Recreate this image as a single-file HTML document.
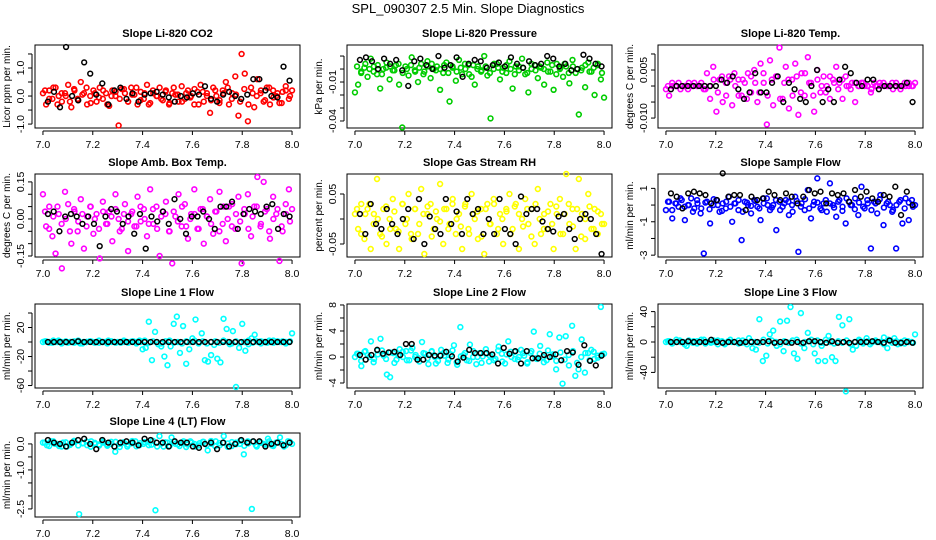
<!DOCTYPE html>
<html><head><meta charset="utf-8"><style>
html,body{margin:0;padding:0;background:#fff;}
svg{display:block;font-family:"Liberation Sans",sans-serif;}
</style></head><body>
<svg id="chart" width="936" height="540" viewBox="0 0 936 540">
<text x="468" y="13" text-anchor="middle" font-size="13">SPL_090307  2.5 Min. Slope Diagnostics</text>
</svg>
<script>
const xTicks = [7.0, 7.2, 7.4, 7.6, 7.8, 8.0];
const xTickLabels = ["7.0", "7.2", "7.4", "7.6", "7.8", "8.0"];

const co2Col = [0.1,-0.3,0.2,-0.1,0.3,0,-0.2,0.1,0.4,-0.4,0.2,-0.1,0.5,0.1,-0.3,0,0.2,-0.2,0.3,-0.1,0.1,-0.35,0.2,0,-1.05,0.25,0.1,-0.2,0.3,0.05,-0.3,0.15,-0.1,0.4,-0.25,0.1,0,0.3,-0.15,0.2,-0.3,0.1,0.05,-0.2,0.35,-0.1,0.2,0,-0.3,0.15,0.4,-0.2,0.1,-0.6,0.3,0,-0.15,0.2,0.5,-0.3,0.1,0.7,-0.7,1.5,0.8,-0.9,0.3,-0.4,0.6,0.1,-0.2,0.3,-0.3,0.2,0,-0.25,0.15,0.35,-0.1,0.2];
const co2Band = [0.2,-0.1,0.3,-0.3,0.1,0,-0.2,0.25,-0.15,0.05,0.3,-0.25,0.1,-0.05,0.2,-0.3,0,0.15,-0.1,0.25,-0.2,0.05,0.3,-0.15,0.1,-0.3,0.2,0,-0.1,0.15,-0.25,0.3,0.05,-0.2,0.1,-0.05,0.25,-0.3,0.15,0,-0.15,0.2,-0.25,0.1,0.3,-0.1,0.05,-0.2,0.25,-0.3,0.1,0,0.2,-0.15,0.3,-0.05,0.1,-0.25,0.2,0];
const co2Blk = [-0.2,0.15,-0.4,1.75,0,-0.15,1.2,0.8,0.05,0.45,-0.3,0.2,0.3,-0.1,0.1,-0.2,0.05,0.1,0.15,0.05,-0.05,-0.2,0,-0.05,0.1,0.05,0.35,-0.1,-0.2,0.05,0.15,0,-0.1,0.05,0.6,0.6,0.2,0,-0.05,1.05,0.55];
const co2Ticks = [-1,-0.5,0,0.5,1,1.5];
const co2Labels = ["-1.0","","0.0","","1.0",""];

const presCol = [-0.018,-0.012,-0.002,0.001,-0.006,0.008,0.002,-0.004,-0.015,0,0.005,-0.008,-0.001,0.003,-0.012,-0.045,0.002,-0.005,0.009,-0.001,-0.01,0.004,-0.002,0.006,-0.007,0,0.002,-0.016,-0.003,0.005,-0.025,0.001,-0.009,0.007,-0.004,0,0.003,-0.006,-0.012,0.002,-0.002,0.01,-0.005,-0.038,0,0.004,-0.008,0.001,-0.003,0.006,-0.015,0.002,-0.001,0.008,-0.004,-0.018,0,0.003,-0.007,0.001,-0.012,0.005,-0.002,-0.016,0.004,0,-0.006,0.002,-0.011,0.007,-0.003,-0.035,0.001,-0.014,0.005,-0.002,-0.02,0.003,-0.008,-0.022];
const presBand = [0.002,-0.003,0.004,0,-0.002,0.003,-0.004,0.001,0.002,-0.001,0.004,-0.003,0,0.003,-0.002,0.001,-0.004,0.002,0.004,-0.001,0,0.003,-0.003,0.002,-0.002,0.001,0.004,-0.004,0.003,0,-0.001,0.002,-0.003,0.004,0.001,-0.002,0.003,0,-0.004,0.002,0.001,-0.003,0.004,-0.001,0.002,0,-0.002,0.003,-0.004,0.001,0.004,-0.003,0.002,0,-0.001,0.003,-0.002,0.001,0.004,-0.003];
const presBlk = [0.007,0.009,0.006,0,0.008,0.004,0.007,-0.001,-0.013,0.006,0.008,0.003,0,0.01,0.001,0.003,0.009,-0.006,0.004,0.007,0.006,0.001,0.003,0.005,0.002,0.009,0.004,0.001,0.006,0.003,0.004,0.01,0.008,0.002,0.004,-0.001,0,0.011,0.008,0.004,0.002];
const presTicks = [-0.04,-0.03,-0.02,-0.01,0,0.01];
const presLabels = ["-0.04","","","-0.01","",""];

const tempCol = [-0.001,-0.003,0,0,0.001,0,0,-0.001,0,0.001,0,0,-0.001,0.004,-0.004,0.006,-0.008,0.002,-0.005,0.001,0.003,-0.006,0,0.002,-0.003,0.001,0.004,-0.002,0.005,-0.005,0.007,0.001,-0.012,0.008,-0.006,0.003,0.012,-0.004,0.006,-0.007,0.002,0.007,-0.009,0.004,-0.003,0.009,0.001,-0.008,0.005,-0.002,0.003,0,-0.004,0.002,0.006,0.001,-0.004,0.003,0,0.001,-0.005,0,0.001,0,0,-0.002,0.001,0,0,0.001,0,0,-0.001,0.001,0,0,0,0.001,0,0.001];
const tempBand = [0,0.001,0,-0.001,0,0.001,0,0,0.001,-0.001,0,0.002,-0.002,0.003,-0.003,0.002,0.004,-0.003,0.002,-0.004,0.003,0.001,-0.002,0.004,-0.003,0.002,0.003,-0.004,0.001,0.002,-0.003,0.003,-0.002,0.004,0.001,-0.003,0.002,0,-0.002,0.003,0.001,-0.001,0.002,0,-0.001,0.001,0,0.001,0,-0.001,0,0.001,0,0,0.001,0,-0.001,0.001,0,0];
const tempBlk = [-0.001,0,0,0,0,0,0,0,0,0.002,0.001,0.003,-0.001,-0.004,-0.002,0.004,-0.002,-0.002,0.001,0.003,-0.005,0.001,-0.001,-0.004,-0.005,0,0.005,-0.005,-0.001,-0.005,0.002,0.006,0.004,0.001,0,0.002,0.002,-0.001,0,0,0,0,0.001,-0.005];
const tempTicks = [-0.01,-0.005,0,0.005,0.01];
const tempLabels = ["-0.010","","","0.005",""];

const ambCol = [0.1,-0.03,0.05,-0.07,-0.14,0.02,-0.2,0.11,0.06,-0.1,0.03,-0.05,0.08,-0.12,0.01,0.05,-0.06,0.02,-0.16,0.07,-0.02,0.03,-0.09,0.1,0,-0.04,0.06,-0.13,0.02,-0.03,0.09,-0.01,0.04,-0.07,0.12,-0.02,0.05,-0.15,0.03,0.07,-0.05,-0.18,0.01,0.1,-0.03,0.06,-0.08,0.02,0.12,-0.04,0.04,-0.1,0.01,0.08,-0.06,0.03,0.11,-0.02,-0.09,0.05,0.06,-0.04,0.09,-0.18,0.02,0.1,-0.07,0.05,0.17,-0.03,0.15,0.04,-0.08,0.09,0.02,-0.17,-0.05,0.06,0.12,0.04];
const ambBand = [0.03,-0.04,0.01,0.05,-0.02,0,-0.05,0.04,-0.01,0.02,-0.03,0.05,0,-0.04,0.03,-0.02,0.01,0.04,-0.05,0.02,-0.01,0.03,-0.03,0.05,0,-0.02,0.04,-0.04,0.01,0.02,-0.05,0.03,-0.01,0.05,-0.03,0,0.02,-0.04,0.04,0.01,-0.02,0.03,-0.05,0.05,0,-0.03,0.02,-0.01,0.04,-0.04,0.01,0.05,-0.02,0.03,-0.05,0,0.04,-0.03,0.02,-0.01];
const ambBlk = [0.02,0.03,-0.05,0.01,0.02,0.01,-0.02,0.01,-0.02,-0.11,0.01,0.04,0.03,-0.02,0.01,-0.06,0.02,-0.12,0.01,-0.01,0.03,-0.02,0.08,0,-0.06,0.01,0.01,0.03,0,-0.04,0.05,0.05,0.07,-0.04,0.02,0.04,0.03,0.02,0.05,0.06,-0.04,0.02,0.01];
const ambTicks = [-0.15,-0.1,-0.05,0,0.05,0.1,0.15];
const ambLabels = ["-0.15","","","0.00","","","0.15"];

const rhCol = [0.01,-0.02,0.03,-0.04,0.02,-0.06,0.01,0.08,-0.03,0.02,-0.05,0,0.04,-0.02,-0.06,0.03,-0.01,0.05,-0.04,0.02,-0.03,0.06,-0.07,0.01,0.03,-0.02,0,0.07,-0.05,0.02,-0.01,0.04,-0.03,0.01,-0.06,0.03,-0.02,0.05,0,-0.04,0.02,-0.07,0.03,-0.01,0.04,-0.03,0.01,-0.05,0.02,0.05,-0.02,0.03,-0.06,0,0.04,-0.01,0.02,-0.05,0.06,-0.03,0.01,-0.02,0.03,-0.06,0.01,0.04,-0.03,0.09,-0.01,0.02,-0.06,0.08,0.01,-0.04,0.05,-0.02,0.02,-0.03,0.01,-0.01];
const rhBand = [0.02,-0.03,0.01,0.03,-0.01,0,-0.035,0.025,-0.02,0.015,-0.025,0.03,0,-0.03,0.02,-0.01,0.01,0.025,-0.035,0.015,-0.005,0.02,-0.02,0.03,0,-0.015,0.025,-0.03,0.01,0.015,-0.035,0.02,-0.01,0.03,-0.02,0,0.015,-0.03,0.025,0.01,-0.015,0.02,-0.035,0.03,0,-0.02,0.015,-0.01,0.025,-0.03,0.01,0.03,-0.015,0.02,-0.035,0,0.025,-0.02,0.015,-0.01];
const rhBlk = [0.01,-0.03,0.03,-0.01,-0.02,0.02,-0.01,-0.03,0,0.02,-0.04,0.04,-0.05,0.005,-0.02,-0.03,0.04,-0.01,0.015,-0.03,0.04,0.01,0.02,-0.03,0,-0.03,0.04,-0.02,-0.03,-0.05,0.045,0.01,0.02,0.02,-0.005,-0.02,-0.025,0.005,0.01,-0.02,-0.04,0,0.01,0,-0.03,-0.07];
const rhTicks = [-0.05,0,0.05];
const rhLabels = ["-0.05","","0.05"];

const sampCol = [-0.3,0.2,-0.8,0.1,-0.1,0.3,-0.9,0,0.4,-0.2,0.1,-0.5,-2.9,0.2,-1.1,0,0.3,-0.4,0.1,-0.2,0.5,-1,0.1,-0.3,-2.1,0.2,0,-0.5,0.3,-0.1,-0.9,0.1,0.4,-0.3,0,-1.5,0.2,-0.1,0.3,-0.6,0,0.5,-2.8,0.1,-0.3,0.9,-0.8,0.2,1.6,-0.2,0.1,-0.4,1.3,0,-0.7,0.3,-0.1,-1.1,0.2,0,0.4,-0.6,1.1,-0.2,0.1,-2.6,0.2,-0.5,0.6,-1.2,0.1,0,-0.3,-2.6,0.2,-1.1,0.4,-0.9,0.3,0];
const sampBand = [0.2,-0.3,0.1,0.4,-0.1,0,-0.4,0.3,-0.2,0.15,-0.25,0.35,0,-0.35,0.2,-0.1,0.1,0.3,-0.4,0.15,-0.05,0.25,-0.2,0.4,0,-0.15,0.3,-0.3,0.1,0.2,-0.4,0.25,-0.1,0.35,-0.2,0,0.15,-0.3,0.3,0.1,-0.15,0.2,-0.35,0.4,0,-0.25,0.15,-0.1,0.3,-0.3,0.1,0.35,-0.15,0.2,-0.4,0,0.3,-0.2,0.15,-0.1];
const sampBlk = [0.7,0.5,-0.2,0.7,0.8,0.7,0.6,0.1,0.3,1.9,0.5,0.6,0.6,-0.3,0.5,0.3,0.4,0.8,0.6,0.3,0.7,0.5,0.1,0.5,0.9,0.7,0.8,0.1,0.7,0.6,0.7,0.2,0.9,0.5,0.8,0.4,0.2,0.6,0.5,1.1,-0.6,0.8,0];
const sampTicks = [-3,-2,-1,0,1];
const sampLabels = ["-3","","-1","","1"];

const l1Col = [0,1,0,-1,0,2,0,0,-1,0,1,0,-2,0,0,1,0,0,-1,0,0,2,0,0,0,-1,0,0,0,1,0,2,-10,-8,28,-25,14,-3,-6,-20,-32,-6,25,35,-15,22,-30,-10,5,31,-2,12,-25,-27,-18,-4,-23,-28,32,18,-3,15,-62,-8,25,-12,-3,5,10,0,1,0,-1,0,2,0,0,1,0,0,12];
const l1Band = [1,-1,2,0,-2,1,0,-1,2,-2,0,1,-1,2,0,-2,1,-1,0,2,-1,1,-2,0,2,-1,1,0,-2,1,2,-1,0,-2,1,0,2,-1,1,-2,0,1,-1,2,0,-2,1,-1,0,2,-1,1,-2,0,2,-1,1,0,-2,1];
const l1Blk = [0,0,0,0,0,1,0,0,0,0,0,0,0,0,0,0,0,0,0,0,0,0,0,0,0,0,0,0,0,0,0,0,0,0,0,0,0,0,0,0,0];
const l1Ticks = [-60,-40,-20,0,20,40];
const l1Labels = ["-60","","-20","","20",""];

const l2Col = [0,0.5,-1.4,0.8,0.3,2.4,-0.3,1,2.8,0.2,-2.7,-3.1,0.6,-0.4,1.2,0,0.9,-0.5,1.4,0.3,-0.2,2.3,0.5,-1.1,0.8,0,-0.6,1.1,0.2,-0.9,0.4,1.8,-1.2,4.6,0.3,-0.5,1.9,0,-1.1,0.6,0.1,1.2,-0.7,0.3,-0.3,1.6,0.5,-1,2.4,0,0.8,-0.4,1.1,0.2,-0.8,0.6,3.9,-0.3,1.7,0,-0.5,3.5,0.4,-1.9,3,-4.1,3.2,-1.3,4.8,-2.9,-1.9,2.7,-2.4,0.6,1.1,-0.3,0.2,7.7,0.5];
const l2Band = [0.5,-0.6,0.9,0,-0.8,0.4,1,-0.3,0.7,-0.9,0.2,0.8,-0.5,1,0,-0.7,0.6,-0.2,0.9,-1,0.3,0.7,-0.4,1,-0.8,0.1,0.6,-0.6,0.9,0,-0.9,0.5,0.2,-0.5,1,-0.7,0.4,0.8,-0.3,0,0.6,-1,0.9,-0.2,0.5,-0.8,1,0.1,-0.6,0.7,-0.4,0.3,0.9,-0.9,0,0.6,-0.5,0.8,-0.1,0.4];
const l2Blk = [0.3,-0.4,0.3,1.1,0.5,0.7,0.8,0.3,2,2,-0.4,-0.4,0.3,0.2,0.2,0.8,0.1,-0.7,-0.1,1.1,0.6,0.6,0.6,0.4,-1,1.4,0.5,0.9,-1,0.9,-0.2,-0.2,0.3,0,0.4,-0.5,0.9,0.7,-1.2,1.8,-0.6,-1.3,0.2];
const l2Ticks = [-4,-2,0,2,4,6,8];
const l2Labels = ["-4","","0","","4","","8"];

const l3Col = [0,1,-1,0,2,0,-5,0,1,-2,0,3,0,-1,0,2,0,-3,1,0,0,2,-1,0,5,-8,-10,30,-25,-18,10,15,-5,27,-12,28,46,-15,-22,38,-8,12,3,-15,-25,-5,-25,8,-20,-25,33,22,-65,30,-10,-5,2,0,5,-3,1,0,0,6,-8,2,5,-3,0,-2,1,0,10];
const l3Band = [1,-2,3,0,-3,2,-1,1,3,-2,0,2,-3,1,-1,3,0,-2,2,-3,1,0,-1,3,-2,2,0,-3,1,-1,2,3,-2,0,1,-3,2,-1,3,0,-2,1,-1,2,-3,0,3,-2,1,-1,2,0,-3,3,-1,1,-2,2,0,-1];
const l3Blk = [0,0,0,1,0,0,0,3,0,-1,0,0,-1,0,0,0,0,1,-1,0,0,-1,0,-1,1,1,0,-1,1,-1,0,-1,0,0,0,1,0,-1,2,-1,-1,0,-1];
const l3Ticks = [-40,-20,0,20,40];
const l3Labels = ["-40","","0","","40"];

const l4Col = [0.05,-0.05,0.1,0,-0.08,0.05,-0.1,0,0.08,-2.7,0.03,-0.05,0.1,0,-0.06,0.05,-0.02,0.08,-0.3,0,0.06,-0.1,0.02,0.1,-0.05,0,0.08,-0.03,-2.55,0.3,-0.1,0.05,0.25,0,-0.08,0.1,-0.02,0.05,-0.1,0.03,0.08,-0.25,0,0.1,-0.05,0.3,0.02,-0.08,0.05,0,-0.4,0.1,-2.5,-0.05,0.08,0,0.2,-0.06,0.05,0.25,-0.1,0.1,0];
const l4Band = [0.05,-0.08,0.1,0,-0.1,0.06,-0.04,0.12,-0.06,0.02,0.09,-0.11,0.04,-0.02,0.1,-0.07,0,0.08,-0.12,0.05,-0.03,0.11,-0.09,0.03,0.07,-0.05,0.12,-0.1,0.01,0.06,-0.08,0.09,-0.02,0.04,-0.12,0.1,0,-0.06,0.08,-0.04,0.11,-0.09,0.03,0.05,-0.11,0.07,-0.01,0.12,-0.07,0.02,0.09,-0.1,0.04,-0.03,0.1,-0.08,0.06,0,-0.05,0.08];
const l4Blk = [0.15,0.05,0,-0.1,0.05,0.15,0.2,0,-0.2,0.15,0.05,-0.1,0.05,0.1,0.05,-0.05,0.2,0.15,0.05,0.05,-0.1,0.1,0.05,0.05,-0.1,-0.15,0,0.05,-0.2,0.05,-0.1,0,0.15,0.05,0.1,0.1,-0.1,0,0.05,-0.05,0.05];
const l4Ticks = [-2.5,-2,-1.5,-1,-0.5,0];
const l4Labels = ["-2.5","","","-1.0","","0.0"];

const NS = "http://www.w3.org/2000/svg";
const svg = document.getElementById("chart");
const colsGeom = [{l:35,r:300},{l:347,r:612},{l:658,r:923}];
const rowsGeom = [{t:45,b:128},{t:174,b:257},{t:304,b:388},{t:433,b:517}];

const panels = [
 {id:"co2",title:"Slope Li-820 CO2",ylab:"Licor ppm per min.",c:0,r:0,col:co2Col,band:co2Band,blk:co2Blk,ticks:co2Ticks,labels:co2Labels,ymin:-1.14,ymax:1.82,color:"#ff0000"},
 {id:"pressure",title:"Slope Li-820 Pressure",ylab:"kPa per min.",c:1,r:0,col:presCol,band:presBand,blk:presBlk,ticks:presTicks,labels:presLabels,ymin:-0.0454,ymax:0.0185,color:"#00cd00"},
 {id:"temp",title:"Slope Li-820 Temp.",ylab:"degrees C per min.",c:2,r:0,col:tempCol,band:tempBand,blk:tempBlk,ticks:tempTicks,labels:tempLabels,ymin:-0.0131,ymax:0.0128,color:"#ff00ff"},
 {id:"amb-box",title:"Slope Amb. Box Temp.",ylab:"degrees C per min.",c:0,r:1,col:ambCol,band:ambBand,blk:ambBlk,ticks:ambTicks,labels:ambLabels,ymin:-0.154,ymax:0.182,color:"#ff00ff"},
 {id:"gas-rh",title:"Slope Gas Stream RH",ylab:"percent per min.",c:1,r:1,col:rhCol,band:rhBand,blk:rhBlk,ticks:rhTicks,labels:rhLabels,ymin:-0.076,ymax:0.09,color:"#ffff00"},
 {id:"sample-flow",title:"Slope Sample Flow",ylab:"ml/min per min.",c:2,r:1,col:sampCol,band:sampBand,blk:sampBlk,ticks:sampTicks,labels:sampLabels,ymin:-3.11,ymax:1.86,color:"#0000ff"},
 {id:"line1",title:"Slope Line 1 Flow",ylab:"ml/min per min.",c:0,r:2,col:l1Col,band:l1Band,blk:l1Blk,ticks:l1Ticks,labels:l1Labels,ymin:-63.4,ymax:52.4,color:"#00ffff"},
 {id:"line2",title:"Slope Line 2 Flow",ylab:"ml/min per min.",c:1,r:2,col:l2Col,band:l2Band,blk:l2Blk,ticks:l2Ticks,labels:l2Labels,ymin:-4.77,ymax:8.15,color:"#00ffff"},
 {id:"line3",title:"Slope Line 3 Flow",ylab:"ml/min per min.",c:2,r:2,col:l3Col,band:l3Band,blk:l3Blk,ticks:l3Ticks,labels:l3Labels,ymin:-60.5,ymax:50,color:"#00ffff"},
 {id:"line4",title:"Slope Line 4 (LT) Flow",ylab:"ml/min per min.",c:0,r:3,col:l4Col,band:l4Band,blk:l4Blk,ticks:l4Ticks,labels:l4Labels,ymin:-2.81,ymax:0.42,color:"#00ffff"}
];

function mk(tag, attrs, parent){
  const e = document.createElementNS(NS, tag);
  for (const k in attrs) e.setAttribute(k, attrs[k]);
  parent.appendChild(e);
  return e;
}

panels.forEach(p => {
  const cg = colsGeom[p.c], rg = rowsGeom[p.r];
  const g = mk("g", {}, svg);
  
  
  const inset = (cg.r - cg.l) * 0.03;
  const xs = v => cg.l + inset + (v - 7) * (cg.r - cg.l - 2*inset);
  const ys = v => rg.b - (v - p.ymin) / (p.ymax - p.ymin) * (rg.b - rg.t);

  const title = mk("text", {x:(cg.l+cg.r)/2, y:rg.t-8, "text-anchor":"middle", "font-size":"11", "font-weight":"bold"}, g);
  title.textContent = p.title;
  
  

  const box = mk("rect", {x:cg.l, y:rg.t, width:cg.r-cg.l, height:rg.b-rg.t, fill:"none", stroke:"#000", "stroke-width":"1"}, g);
  
  

  const xa = mk("g", {}, g);
  
  
  const ax = rg.b + 3;
  mk("line", {x1:xs(xTicks[0]), x2:xs(xTicks[xTicks.length-1]), y1:ax, y2:ax, stroke:"#000"}, xa);
  xTicks.forEach((t,i) => {
    mk("line", {x1:xs(t), x2:xs(t), y1:ax, y2:ax+4, stroke:"#000"}, xa);
    const tl = mk("text", {x:xs(t), y:ax+17, "text-anchor":"middle", "font-size":"10.5"}, xa);
    tl.textContent = xTickLabels[i];
    
    
  });

  const ya = mk("g", {}, g);
  
  
  const axy = cg.l - 3;
  mk("line", {x1:axy, x2:axy, y1:ys(p.ticks[0]), y2:ys(p.ticks[p.ticks.length-1]), stroke:"#000"}, ya);
  p.ticks.forEach((t,i) => {
    mk("line", {x1:axy-4, x2:axy, y1:ys(t), y2:ys(t), stroke:"#000"}, ya);
    if (p.labels[i]) {
      const tx = cg.l - 11, ty = ys(t);
      const tl = mk("text", {x:tx, y:ty, "text-anchor":"middle", "font-size":"10.5", transform:`rotate(-90 ${tx} ${ty})`}, ya);
      tl.textContent = p.labels[i];
      
      
    }
  });
  const lx = cg.l - 25, ly = (rg.t + rg.b)/2;
  const yl = mk("text", {x:lx, y:ly, "text-anchor":"middle", "font-size":"10", transform:`rotate(-90 ${lx} ${ly})`}, g);
  yl.textContent = p.ylab;
  
  

  const sc = mk("g", {fill:"none", stroke:p.color, "stroke-width":"1.6"}, g);
  
  
  p.col.forEach((v,i) => {
    const xv = 7 + i / (p.col.length - 1);
    const pt = mk("circle", {cx:xs(xv), cy:ys(v), r:"2.4"}, sc);
    
    
  });
  p.band.forEach((v,i) => {
    const xv = 7 + (i + 0.5) / p.band.length;
    const pt = mk("circle", {cx:xs(xv), cy:ys(v), r:"2.4"}, sc);
    
    
  });
  const sb = mk("g", {fill:"none", stroke:"#000", "stroke-width":"1.5"}, g);
  
  
  p.blk.forEach((v,i) => {
    const xv = 7.02 + 0.97 * i / (p.blk.length - 1);
    const pt = mk("circle", {cx:xs(xv), cy:ys(v), r:"2.4"}, sb);
    
    
  });
});
</script>
</body></html>
